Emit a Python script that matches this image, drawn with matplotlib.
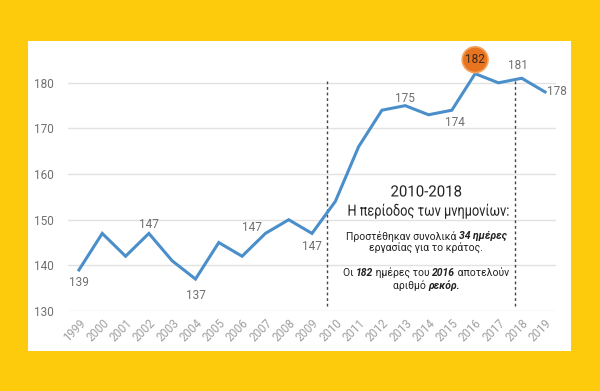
import matplotlib
matplotlib.use("Agg")
import matplotlib.pyplot as plt
from matplotlib.patches import Rectangle, PathPatch
from matplotlib.textpath import TextPath
from matplotlib.font_manager import FontProperties
from matplotlib.transforms import ScaledTranslation, Affine2D

plt.rcParams['font.family'] = ['Roboto', 'DejaVu Sans']

years = list(range(1999, 2020))
days = [139, 147, 142, 147, 141, 137, 145, 142, 147, 150, 147,
        154, 166, 174, 175, 173, 174, 182, 180, 181, 178]

# labelled points: year -> (dx, dy) offset in pixels, horizontal alignment
labels = {1999: (0, -13, 'center'), 2002: (0, 9, 'center'), 2004: (0, -16, 'center'),
          2007: (-13, 6, 'center'), 2009: (0, -13, 'center'), 2013: (0, 7, 'center'),
          2015: (3, -12, 'center'), 2018: (-4, 13, 'center'), 2019: (2, 0, 'left')}
record_year = 2016
period = (2009.65, 2017.7)

YELLOW = '#FDCA0C'
BLUE = '#4A8FC9'
GREY = '#6f6f6f'

fig = plt.figure(figsize=(6, 3.91), dpi=100, facecolor=YELLOW)

# white card behind the chart
fig.add_artist(Rectangle((28 / 600, 1 - 351 / 391), 543 / 600, 310 / 391,
                         transform=fig.transFigure, fc='white', ec='none', zorder=-1))

ax = fig.add_axes([68 / 600, 1 - 311 / 391, 488 / 600, 251 / 391])
ax.set_facecolor('none')
ax.set_xlim(1998.53, 2019.47)
ax.set_ylim(130, 185)
ax.set_yticks([130, 140, 150, 160, 170, 180])
ax.set_xticks(years)
ax.set_xticklabels([str(y) for y in years], rotation=45, ha='right', va='top',
                   rotation_mode='anchor', fontsize=8.3, color='#a0a0a0')
ax.tick_params(axis='y', length=0, pad=10, labelsize=8.5, labelcolor=GREY)
ax.tick_params(axis='x', length=0, pad=4)
ax.grid(axis='y', color='#e2e2e2', lw=1)
for s in ax.spines.values():
    s.set_visible(False)

ax.plot(years, days, color=BLUE, lw=2.2, solid_joinstyle='miter', zorder=3)

for x in period:
    ax.plot([x, x], [131, 180.5], color='#444444', lw=1, dashes=(2, 2), zorder=2)

for y, (dx, dy, ha) in labels.items():
    v = days[years.index(y)]
    ax.annotate(str(v), (y, v), xytext=(dx, dy), textcoords='offset pixels',
                ha=ha, va='center', fontsize=8.5, color=GREY, annotation_clip=False)

rv = days[years.index(record_year)]
ax.annotate(str(rv), (record_year, rv), xytext=(0, 14), textcoords='offset pixels',
            ha='center', va='center', fontsize=8.5, color='#3a2a1a', annotation_clip=False,
            bbox=dict(boxstyle='circle,pad=0.25', fc='#E87420', ec='#F3A35E', lw=1.2), zorder=5)


def condensed_text(x, y, s, size_px, width_px):
    # heading is set in a condensed face: squeeze a Roboto outline to the wanted width
    tp = TextPath((0, 0), s, size=size_px, prop=FontProperties(family='Roboto'))
    bb = tp.get_extents()
    sx = width_px / bb.width
    tr = (Affine2D().translate(-(bb.x0 + bb.x1) / 2, -0.711 * size_px / 2).scale(sx, 1)
          + ScaledTranslation(x, y, ax.transData))
    ax.add_patch(PathPatch(tp, transform=tr, fc='#222222', ec='none', lw=0, zorder=4))


condensed_text(2013.9, 156.3, '2010-2018', 15.5, 70)
condensed_text(2014.0, 152.1, 'Η περίοδος των μνημονίων:', 15.5, 160)

renderer = fig.canvas.get_renderer()


def rich_line(x, y, parts, size=7.5):
    texts = []
    for s, bold in parts:
        t = ax.text(x, y, s, ha='left', va='center', fontsize=size, color='#222222',
                    fontweight='bold' if bold else 'normal',
                    fontstyle='italic' if bold else 'normal')
        texts.append(t)
    widths = [t.get_window_extent(renderer).width for t in texts]
    off = -sum(widths) / 2
    for t, w in zip(texts, widths):
        t.set_transform(ax.transData + ScaledTranslation(off / fig.dpi, 0, fig.dpi_scale_trans))
        off += w


rich_line(2013.9, 146.4, [('Προστέθηκαν συνολικά ', False), ('34 ημέρες', True)])
rich_line(2013.9, 143.8, [('εργασίας για το κράτος.', False)])
rich_line(2013.9, 138.3, [('Οι ', False), ('182', True), (' ημέρες του ', False),
                          ('2016', True), (' αποτελούν', False)])
rich_line(2013.9, 135.5, [('αριθμό ', False), ('ρεκόρ.', True)])

fig.savefig('out.png', dpi=100, facecolor=YELLOW)
